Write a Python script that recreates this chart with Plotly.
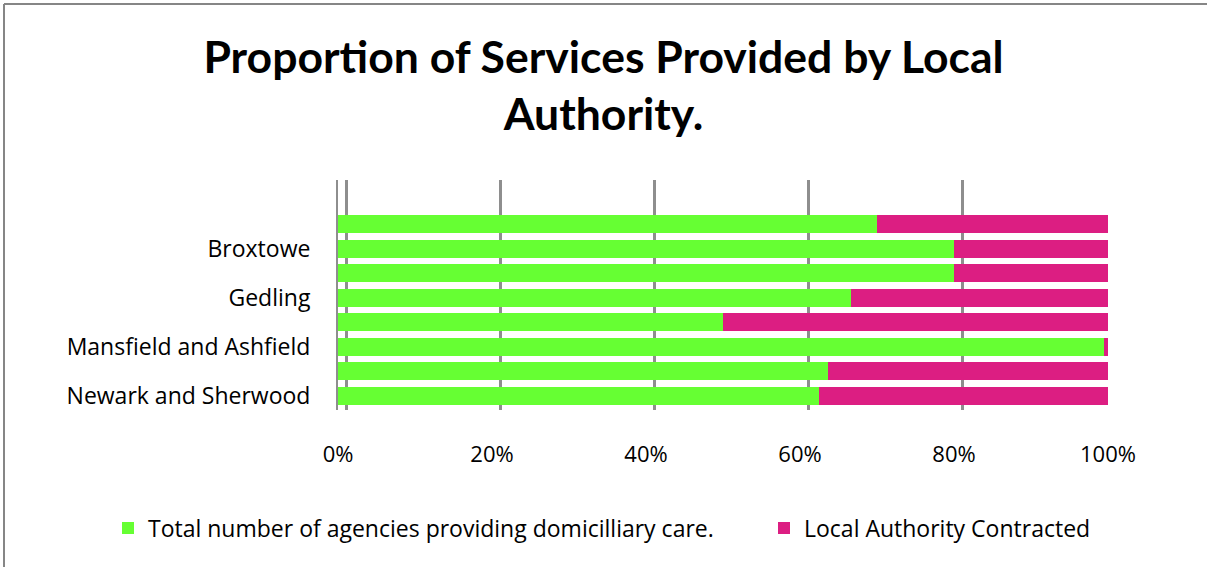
import plotly.graph_objects as go

# categories, bottom bar first (only every other label is shown, as in the source)
areas = ["Newark and Sherwood", "Rushcliffe", "Mansfield and Ashfield", "Nottingham City",
         "Gedling", "Bassetlaw", "Broxtowe", "Ashfield"]
shown_labels = ["Newark and Sherwood", "Mansfield and Ashfield", "Gedling", "Broxtowe"]

total_agencies = [10, 14, 199, 6, 12, 16, 24, 14]
la_contracted = [6, 8, 1, 6, 6, 4, 6, 6]

x_ticks = [0, 20, 40, 60, 80, 100]
x_tick_text = ["0%", "20%", "40%", "60%", "80%", "100%"]

_GREEN = "#66FF33"
_PINK = "#DC1E82"
_GRID = "#8E8E8E"
_FONT = "Open Sans"

# plot area in pixels: x 338..1116, y 180..410
W, H = 1207, 567
L, R, T, B = 338, 1116, 180, 410
PW, PH = R - L, B - T
SHIFT = 8  # back wall offset of the 3D look, px
x_max = 100 * PW / (PW - SHIFT)


def px_x(p):
    return (p - L) / PW


def px_y(p):
    return (B - p) / PH


fig = go.Figure()
fig.add_trace(go.Bar(
    y=areas, x=total_agencies, orientation="h",
    name="Total number of agencies providing domicilliary care.",
    marker=dict(color=_GREEN, line=dict(width=0)),
    legend="legend",
))
fig.add_trace(go.Bar(
    y=areas, x=la_contracted, orientation="h",
    name="Local Authority Contracted",
    marker=dict(color=_PINK, line=dict(width=0)),
    legend="legend2",
))
# keeps the back-wall axis alive (invisible)
fig.add_trace(go.Scatter(
    x=x_ticks, y=[areas[0]] * len(x_ticks), xaxis="x2",
    mode="markers", marker=dict(opacity=0), showlegend=False, hoverinfo="skip",
))

fig.update_layout(
    width=W, height=H,
    barmode="stack", barnorm="percent", bargap=0.27,
    plot_bgcolor="#fff", paper_bgcolor="#fff",
    margin=dict(l=L, r=W - R, t=T, b=H - B, autoexpand=False),
    font=dict(family=_FONT, size=23, color="#000"),
    title=dict(
        text="Proportion of Services Provided by Local<br>Authority.",
        x=0.5, xref="container", xanchor="center",
        y=0.872, yref="container", yanchor="top",
        font=dict(family="Lato", size=44.5, weight="bold", color="#000"),
    ),
    xaxis=dict(
        range=[0, x_max],
        tickvals=x_ticks, ticktext=x_tick_text, showgrid=False, zeroline=False,
        ticklabelstandoff=29, tickfont=dict(size=22),
    ),
    # back wall gridlines, offset like the 3D chart
    xaxis2=dict(
        range=[100 - x_max, 100], overlaying="x",
        tickvals=x_ticks, showticklabels=False, showgrid=True,
        gridcolor=_GRID, gridwidth=2.5, zeroline=False,
    ),
    yaxis=dict(
        categoryorder="array", categoryarray=areas,
        range=[-0.57, 8.79], tickvals=shown_labels,
        showline=True, linecolor=_GRID, linewidth=2,
        ticklabelstandoff=21, tickfont=dict(size=23), showgrid=False,
    ),
    legend=dict(
        orientation="h", x=px_x(108), xanchor="left",
        y=px_y(528), yanchor="middle",
        font=dict(size=23), bgcolor="rgba(0,0,0,0)",
    ),
    legend2=dict(
        orientation="h", x=px_x(764), xanchor="left",
        y=px_y(528), yanchor="middle",
        font=dict(size=23), bgcolor="rgba(0,0,0,0)",
    ),
    showlegend=True,
)

# chart border (only top and left edges fall inside the picture)
fig.add_shape(type="line", xref="paper", yref="paper",
              x0=px_x(4), x1=px_x(1300), y0=px_y(4), y1=px_y(4),
              line=dict(color="#868686", width=2))
fig.add_shape(type="line", xref="paper", yref="paper",
              x0=px_x(4), x1=px_x(4), y0=px_y(4), y1=px_y(700),
              line=dict(color="#868686", width=2))

# page body has a default 8px margin; drop it so the figure sits at (0, 0)
fig.write_html("out.html", config={"displayModeBar": False},
               post_script="document.body.style.margin='0';")
